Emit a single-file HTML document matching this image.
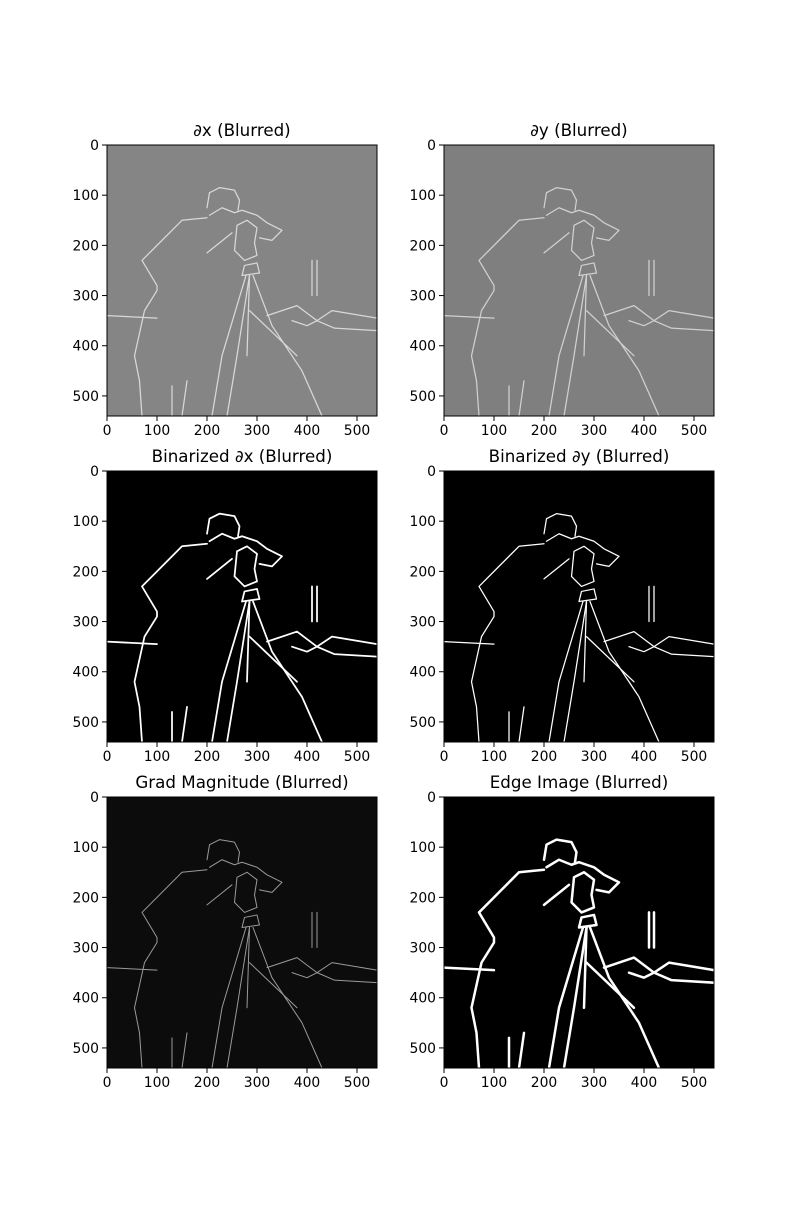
<!DOCTYPE html>
<html><head><meta charset="utf-8">
<style>
body{margin:0;background:#fff}
svg text{font-family:"DejaVu Sans","Liberation Sans",sans-serif}
</style></head>
<body>
<svg id="fig" width="800" height="1200" viewBox="0 0 800 1200" xmlns="http://www.w3.org/2000/svg">
<defs>
<g id="edges" fill="none" stroke-linecap="round" stroke-linejoin="round">
  <path d="M70 540 L65 470 L55 420 L75 330 L100 290 L100 280 L70 230 L100 200 L150 150 L200 145"/>
  <path d="M200 125 L205 95 L225 85 L255 90 L265 110 L262 130"/>
  <path d="M205 140 L230 125 L255 135 L270 130 L300 140 L320 155 L350 170 L330 190 L305 185"/>
  <path d="M260 160 L280 150 L300 165 L295 195 L300 220 L275 230 L255 210 Z"/>
  <path d="M200 215 L250 175"/>
  <path d="M275 240 L300 235 L305 255 L270 260 Z"/>
  <path d="M278 260 L230 420 L210 540"/>
  <path d="M285 260 L260 420 L240 540"/>
  <path d="M292 260 L330 360 L390 450 L430 540"/>
  <path d="M285 260 L280 420"/>
  <path d="M285 330 L380 420"/>
  <path d="M130 540 L130 480 M150 540 L160 470"/>
  <path d="M0 340 L100 345 M320 340 L380 320 L420 350 L450 330 L540 345"/>
  <path d="M370 350 L400 360 L420 350 L455 365 L540 370"/>
  <path d="M410 230 L410 300 M420 230 L420 300"/>
</g>
</defs>
<g id="panels"></g>
</svg>
<script>
const panelTitles = ["∂x (Blurred)","∂y (Blurred)","Binarized ∂x (Blurred)","Binarized ∂y (Blurred)","Grad Magnitude (Blurred)","Edge Image (Blurred)"];
const panelBg = ["#858585","#7f7f7f","#000000","#000000","#0c0c0c","#000000"];
const panelStroke = ["#d8d8d8","#d0d0d0","#ffffff","#ffffff","#9a9a9a","#ffffff"];
const panelWidth = [2.5,2.5,3.5,2.5,2,5];
const xTicks = [0,100,200,300,400,500];
const yTicks = [0,100,200,300,400,500];
const imgSize = 540;

const NS="http://www.w3.org/2000/svg";
const root=document.getElementById('panels');
const colX=[107,444], rowY=[145,471,797], W=270, H=271;
function mk(t,a,p){const e=document.createElementNS(NS,t);for(const k in a)e.setAttribute(k,a[k]);p.appendChild(e);return e;}
panelTitles.forEach((title,i)=>{
  const x0=colX[i%2], y0=rowY[Math.floor(i/2)];
  const sx=v=>x0+v/imgSize*W, sy=v=>y0+v/imgSize*H;
  const g=mk('g',{},root);
  
  
  const r=mk('rect',{x:x0,y:y0,width:W,height:H,fill:panelBg[i]},g);
  
  
  const u=mk('use',{href:'#edges',transform:`translate(${x0},${y0}) scale(${W/imgSize},${H/imgSize})`,stroke:panelStroke[i],'stroke-width':panelWidth[i]},g);
  
  
  const f=mk('rect',{x:x0,y:y0,width:W,height:H,fill:'none',stroke:'#000','stroke-width':1},g);
  
  
  const t=mk('text',{x:x0+W/2,y:y0-9,'text-anchor':'middle','font-size':16.7,fill:'#000'},g);
  t.textContent=title;
  
  
  xTicks.forEach(v=>{
    const X=sx(v);
    mk('line',{x1:X,y1:y0+H,x2:X,y2:y0+H+5,stroke:'#000'},g);
    const tl=mk('text',{x:X,y:y0+H+19,'text-anchor':'middle','font-size':13.9},g);
    tl.textContent=v;
    
    
  });
  yTicks.forEach(v=>{
    const Y=sy(v);
    mk('line',{x1:x0-5,y1:Y,x2:x0,y2:Y,stroke:'#000'},g);
    const tl=mk('text',{x:x0-8,y:Y+5,'text-anchor':'end','font-size':13.9},g);
    tl.textContent=v;
    
    
  });
});
</script>
</body></html>
